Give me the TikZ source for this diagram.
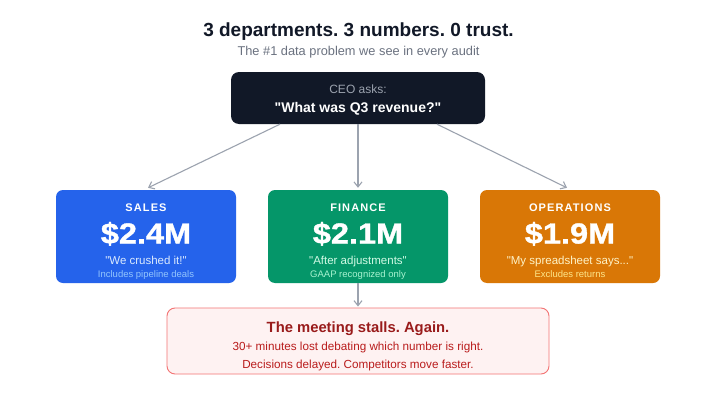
\documentclass[tikz,border=0pt]{standalone}
\usepackage{fontspec}
\setmainfont{Liberation Sans}[Ligatures=TeXOff]
\usetikzlibrary{arrows.meta,calc}
\definecolor{ceobg}{HTML}{111827}
\definecolor{ceogray}{HTML}{9CA3AF}
\definecolor{subgray}{HTML}{6B7280}
\definecolor{titlec}{HTML}{111827}
\definecolor{arrowc}{HTML}{9CA3AF}
\definecolor{salesbg}{HTML}{2563EB}
\definecolor{salesq}{HTML}{DBEAFE}
\definecolor{salesn}{HTML}{93C5FD}
\definecolor{finbg}{HTML}{059669}
\definecolor{finq}{HTML}{D1FAE5}
\definecolor{finn}{HTML}{A7F3D0}
\definecolor{opsbg}{HTML}{D97706}
\definecolor{opsq}{HTML}{FEF3C7}
\definecolor{opsn}{HTML}{FDE68A}
\definecolor{meetbg}{HTML}{FEF2F2}
\definecolor{meetbd}{HTML}{EF4444}
\definecolor{meett}{HTML}{991B1B}
\definecolor{meetl}{HTML}{B91C1C}
\tikzset{
  card/.style={rounded corners=7pt, minimum width=180pt, minimum height=93pt, inner sep=0pt},
  lbl/.style={inner sep=0pt, anchor=base, text=white},
  valfont/.style={font=\fontsize{29}{31}\selectfont\bfseries\addfontfeatures{FakeStretch=1.12,FakeBold=1.2}},
  headfont/.style={font=\fontsize{11}{12}\selectfont\bfseries\addfontfeatures{LetterSpace=10}},
  quotefont/.style={font=\fontsize{11.5}{13}\selectfont},
  notefont/.style={font=\fontsize{9.5}{11}\selectfont},
  conn/.style={draw=arrowc, line width=1.1pt, -{Straight Barb[length=5pt,width=8pt,line width=1.1pt]}},
}
\frenchspacing
\begin{document}
\begin{tikzpicture}[x=1pt,y=-1pt]
\useasboundingbox[fill=white] (0,0) rectangle (717,404);
% title
\node[lbl, text=titlec, font=\fontsize{19}{21}\selectfont\bfseries] (title) at (358.5,37) {3 departments. 3 numbers. 0 trust.};
\node[lbl, text=subgray, font=\fontsize{12.8}{14}\selectfont] (subtitle) at (358.5,56) {The \#1 data problem we see in every audit};
% CEO
\node[rounded corners=8pt, fill=ceobg, minimum width=254pt, minimum height=52pt, inner sep=0pt] (ceo) at (358,98) {};
\node[lbl, text=ceogray, font=\fontsize{12}{14}\selectfont] (ceoa) at (358,93.5) {CEO asks:};
\node[lbl, font=\fontsize{14}{16}\selectfont\bfseries] (ceoq) at (358,112) {"What was Q3 revenue?"};
% cards
\node[card, fill=salesbg] (sales) at (146,236.5) {};
\node[card, fill=finbg] (fin) at (358,236.5) {};
\node[card, fill=opsbg] (ops) at (570,236.5) {};
% sales text
\node[lbl, headfont] (st) at (146,211) {SALES};
\node[lbl, valfont] (sv) at (146,243.5) {\$2.4M};
\node[lbl, text=salesq, quotefont] (sq) at (146,264) {"We crushed it!"};
\node[lbl, text=salesn, notefont] (sn) at (146,277.5) {Includes pipeline deals};
% finance text
\node[lbl, headfont] (ft) at (358,211) {FINANCE};
\node[lbl, valfont] (fv) at (358,243.5) {\$2.1M};
\node[lbl, text=finq, quotefont] (fq) at (358,264) {"After adjustments"};
\node[lbl, text=finn, notefont] (fn) at (358,277.5) {GAAP recognized only};
% ops text
\node[lbl, headfont] (ot) at (570,211) {OPERATIONS};
\node[lbl, valfont] (ov) at (570,243.5) {\$1.9M};
\node[lbl, text=opsq, quotefont] (oq) at (570,264) {"My spreadsheet says..."};
\node[lbl, text=opsn, notefont] (on) at (570,277.5) {Excludes returns};
% meeting
\node[rounded corners=8pt, fill=meetbg, draw=meetbd!75, line width=0.9pt, minimum width=382pt, minimum height=66pt, inner sep=0pt] (meet) at (358,341) {};
\node[lbl, text=meett, font=\fontsize{14.8}{16}\selectfont\bfseries] (mt) at (358,332) {The meeting stalls. Again.};
\node[lbl, text=meetl, font=\fontsize{11.7}{13}\selectfont] (m1) at (358,350.5) {30+ minutes lost debating which number is right.};
\node[lbl, text=meetl, font=\fontsize{11.7}{13}\selectfont] (m2) at (358,368.5) {Decisions delayed. Competitors move faster.};
% connectors
\draw[conn] ($(ceo.south)+(-78,0)$) -- ($(sales.north)+(2,-2)$);
\draw[conn] (ceo.south) -- ($(fin.north)+(0,-2)$);
\draw[conn] ($(ceo.south)+(79,0)$) -- ($(ops.north)+(-3,-2)$);
\draw[conn] (fin.south) -- ($(meet.north)+(0,-1)$);
\end{tikzpicture}
\end{document}
